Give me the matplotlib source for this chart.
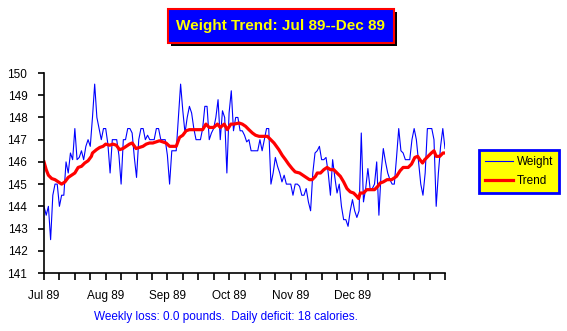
import numpy as np
import matplotlib.pyplot as plt
from matplotlib.patches import Rectangle

# daily weights, Jul 1 89 onward
weight = [
    144.0, 143.6, 144.0, 142.5, 144.5, 145.0, 145.0, 144.0, 144.5, 144.5,
    146.0, 145.5, 146.4, 146.1, 147.5, 146.1, 146.2, 146.5, 146.1, 146.7,
    147.0, 146.7, 148.0, 149.5, 148.0, 147.5, 147.0, 147.5, 147.5, 146.8,
    145.5, 147.0, 147.0, 147.0, 146.3, 145.0, 147.0, 147.0, 147.5, 147.5,
    147.3, 146.2, 145.3, 147.0, 147.5, 147.5, 147.0, 147.2, 147.0, 147.0,
    147.0, 147.5, 147.5, 147.0, 147.0, 147.0, 146.3, 145.0, 146.5, 146.5,
    146.5, 148.0, 149.5, 148.3, 147.3, 148.0, 148.5, 148.2, 147.5, 147.0,
    147.0, 147.0, 147.5, 148.5, 148.5, 147.0, 147.3, 147.5, 148.0, 148.8,
    147.0, 148.3, 148.0, 145.5, 148.2, 149.2, 147.4, 148.0, 148.0, 147.4,
    147.4, 147.2, 146.9, 147.0, 146.5, 146.5, 146.5, 146.5, 147.0, 146.5,
    147.0, 147.5, 147.5, 145.0, 145.5, 146.2, 145.8, 145.5, 145.1, 145.4,
    145.0, 145.0, 145.0, 144.5, 145.0, 145.0, 144.9, 144.5, 144.5, 144.8,
    144.2, 143.8, 145.5, 146.4, 146.5, 146.7, 146.1, 146.1, 146.2, 145.5,
    144.5, 146.1, 145.3, 144.6, 145.0, 144.0, 143.4, 143.4, 143.1, 143.8,
    144.3, 143.8, 143.5, 143.8, 147.3, 144.2, 144.8, 145.7, 144.8, 144.8,
    145.0, 146.0, 143.6, 145.5, 146.6, 146.0, 145.5, 145.2, 145.0, 145.0,
    146.2, 147.5, 146.5, 146.4, 146.1, 146.1, 146.1, 147.0, 147.5, 147.0,
    146.0, 145.0, 144.5, 145.5, 147.5, 147.5, 147.5, 147.0, 144.0, 145.5,
    146.7, 147.5, 146.6,
]
days = np.arange(len(weight))

trend_day = [0, 1, 2, 3.5, 5, 6.5, 8, 9.5, 11, 12.5, 14, 15.5, 17, 18.5, 20,
             21.5, 22, 23.8, 25.3, 26.8, 28, 29.8, 31.3, 32.8, 34.3, 35.8,
             37.3, 38.8, 40, 41.8, 43.3, 44.9, 46.4, 47.9, 49.4, 50.9, 52.4,
             53.9, 55.4, 57, 60, 61.5, 63, 64.5, 66, 72, 73.5, 75, 77, 78.7,
             80, 81.8, 83.2, 84.8, 86.3, 88.5, 90, 91.5, 93, 94.6, 96, 97.6,
             99, 101.4, 102.9, 104.4, 106.6, 108.1, 109.6, 111, 112.6, 114,
             116, 117.5, 119, 120.5, 121.7, 123.2, 124, 125.5, 127, 128.5,
             130, 131.5, 133, 134.5, 136, 137.5, 139, 140.5, 142, 142.8,
             143.5, 145, 146.5, 148, 150, 151.5, 152.6, 154, 155.7, 157.8,
             159.3, 160, 161.6, 163, 165.3, 166.8, 168.3, 169.6, 170.6, 171.8,
             172.8, 174.3, 175.8, 177, 178, 179.6, 181.1, 182]
trend_val = [146.0, 145.65, 145.4, 145.25, 145.2, 145.1, 145.0, 145.1, 145.3,
             145.4, 145.5, 145.75, 145.8, 145.95, 146.05, 146.25, 146.4, 146.55,
             146.65, 146.7, 146.8, 146.75, 146.8, 146.75, 146.55, 146.6, 146.7,
             146.8, 146.85, 146.6, 146.65, 146.7, 146.8, 146.85, 146.85, 146.9,
             146.95, 146.9, 146.85, 146.7, 146.7, 147.1, 147.2, 147.4, 147.45,
             147.45, 147.7, 147.55, 147.55, 147.7, 147.55, 147.7, 147.45, 147.7,
             147.7, 147.75, 147.7, 147.6, 147.45, 147.3, 147.2, 147.15, 147.15,
             147.15, 147.0, 146.85, 146.55, 146.3, 146.1, 145.9, 145.7, 145.55,
             145.5, 145.4, 145.3, 145.2, 145.2, 145.35, 145.5, 145.5, 145.65,
             145.75, 145.65, 145.65, 145.5, 145.35, 145.1, 144.8, 144.65, 144.6,
             144.45, 144.35, 144.6, 144.6, 144.75, 144.75, 144.75, 144.9, 145.05,
             145.1, 145.2, 145.2, 145.3, 145.35, 145.6, 145.75, 145.75, 145.9,
             146.2, 146.25, 146.1, 145.95, 146.1, 146.25, 146.4, 146.5, 146.25,
             146.25, 146.4, 146.4]

month_labels = ["Jul 89", "Aug 89", "Sep 89", "Oct 89", "Nov 89", "Dec 89"]
title = "Weight Trend: Jul 89--Dec 89"
footer = "Weekly loss: 0.0 pounds.  Daily deficit: 18 calories."

W, H = 567, 331
plt.rcParams["font.family"] = ["Liberation Sans", "DejaVu Sans"]
fig = plt.figure(figsize=(W / 100, H / 100), dpi=100)
ax = fig.add_axes([44 / W, 1 - 273 / H, (445 - 44) / W, (273 - 73) / H])

ax.plot(days, weight, color="#0000ff", lw=0.8, label="Weight")
ax.plot(trend_day, trend_val, color="#ff0000", lw=2.3, label="Trend")

ax.set_xlim(0, 182)
ax.set_ylim(141, 150)
ax.set_yticks(range(141, 151))
ax.set_xticks(np.arange(0, 183, 7), minor=True)
ax.set_xticks(np.arange(0, 6) * 28)
ax.set_xticklabels(month_labels)
for s in ["top", "right"]:
    ax.spines[s].set_visible(False)
for s in ["left", "bottom"]:
    ax.spines[s].set_linewidth(1.2)
ax.tick_params(axis="both", which="both", direction="out", width=1.2,
               length=4, labelsize=8.5)
ax.tick_params(axis="x", which="both", length=5, pad=7)
ax.tick_params(axis="y", pad=8)

# title box with shadow
bx, by, bw, bh = 168, 9, 226, 34
fig.patches.append(Rectangle(((bx + 3) / W, 1 - (by + bh + 3) / H), bw / W, bh / H,
                             transform=fig.transFigure, facecolor="black",
                             edgecolor="none", zorder=1))
fig.patches.append(Rectangle((bx / W, 1 - (by + bh) / H), bw / W, bh / H,
                             transform=fig.transFigure, facecolor="#0000ff",
                             edgecolor="#ff0000", lw=1.5, zorder=2))
fig.text((bx + bw / 2) / W, 1 - (by + bh / 2) / H, title, color="#ffff00",
         fontsize=11, fontweight="bold", ha="center", va="center", zorder=3)

leg = ax.legend(loc="upper left", bbox_to_anchor=(479 / W, 1 - 150 / H),
                bbox_transform=fig.transFigure, fontsize=8.5, frameon=True,
                fancybox=False, framealpha=1, facecolor="#ffff00",
                edgecolor="#0000ff", handlelength=2.4, handletextpad=0.3,
                borderpad=0.5, labelspacing=0.6, borderaxespad=0)
leg.get_frame().set_linewidth(2)

fig.text(226 / W, 1 - 317 / H, footer, color="#0000ff", fontsize=8.5,
         ha="center", va="center")

fig.savefig("out.png", dpi=100)
